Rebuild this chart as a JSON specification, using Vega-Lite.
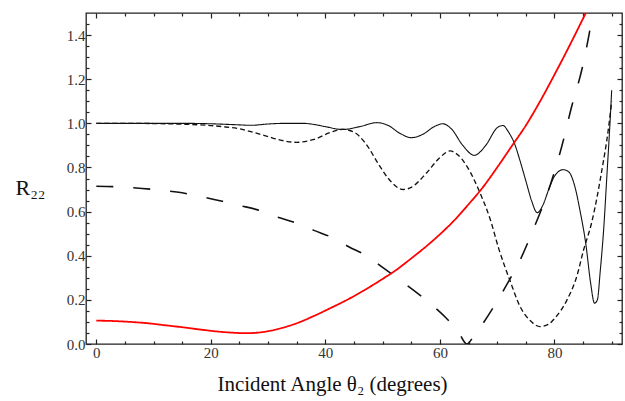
{
  "$schema": "https://vega.github.io/schema/vega-lite/v6.json",
  "width": 536,
  "height": 331,
  "autosize": {"type": "none"},
  "padding": {"left": 86, "top": 13, "right": 3, "bottom": 57},
  "background": "white",
  "config": {
    "view": {"stroke": "#222", "strokeWidth": 1.3},
    "axis": {"grid": false, "domain": false, "labelFont": "'Liberation Serif', 'Times New Roman', serif", "labelFontSize": 15, "labelColor": "#333", "tickColor": "#222", "tickWidth": 1.2, "titleFont": "'Liberation Serif', 'Times New Roman', serif", "titleColor": "#111", "titleFontWeight": "normal", "labelOverlap": false, "labelFlush": false}
  },
  "data": {"values": [
    {"series": "solid", "angle": 0, "R": 1.0},
    {"series": "solid", "angle": 5, "R": 1.0},
    {"series": "solid", "angle": 10, "R": 1.0},
    {"series": "solid", "angle": 15, "R": 1.0},
    {"series": "solid", "angle": 20, "R": 0.998},
    {"series": "solid", "angle": 25, "R": 0.993},
    {"series": "solid", "angle": 27, "R": 0.991},
    {"series": "solid", "angle": 30, "R": 0.997},
    {"series": "solid", "angle": 33, "R": 1.0},
    {"series": "solid", "angle": 36, "R": 1.0},
    {"series": "solid", "angle": 38, "R": 0.995},
    {"series": "solid", "angle": 40, "R": 0.985},
    {"series": "solid", "angle": 43, "R": 0.972},
    {"series": "solid", "angle": 46, "R": 0.985},
    {"series": "solid", "angle": 49, "R": 1.003},
    {"series": "solid", "angle": 51, "R": 0.99},
    {"series": "solid", "angle": 53, "R": 0.955},
    {"series": "solid", "angle": 55, "R": 0.935},
    {"series": "solid", "angle": 57, "R": 0.95},
    {"series": "solid", "angle": 59, "R": 0.985},
    {"series": "solid", "angle": 60.5, "R": 0.998},
    {"series": "solid", "angle": 62, "R": 0.975},
    {"series": "solid", "angle": 64, "R": 0.9},
    {"series": "solid", "angle": 66, "R": 0.855},
    {"series": "solid", "angle": 68, "R": 0.9},
    {"series": "solid", "angle": 70, "R": 0.98},
    {"series": "solid", "angle": 71, "R": 0.99},
    {"series": "solid", "angle": 72, "R": 0.96},
    {"series": "solid", "angle": 73, "R": 0.91},
    {"series": "solid", "angle": 74, "R": 0.83},
    {"series": "solid", "angle": 75, "R": 0.74},
    {"series": "solid", "angle": 76, "R": 0.65},
    {"series": "solid", "angle": 77, "R": 0.595},
    {"series": "solid", "angle": 78, "R": 0.63},
    {"series": "solid", "angle": 79, "R": 0.7},
    {"series": "solid", "angle": 80, "R": 0.76},
    {"series": "solid", "angle": 81.5, "R": 0.79},
    {"series": "solid", "angle": 82.5, "R": 0.78},
    {"series": "solid", "angle": 83.5, "R": 0.72},
    {"series": "solid", "angle": 84.5, "R": 0.6},
    {"series": "solid", "angle": 85.5, "R": 0.45},
    {"series": "solid", "angle": 86.3, "R": 0.28},
    {"series": "solid", "angle": 87, "R": 0.185},
    {"series": "solid", "angle": 87.5, "R": 0.2},
    {"series": "solid", "angle": 88, "R": 0.33},
    {"series": "solid", "angle": 88.6, "R": 0.52},
    {"series": "solid", "angle": 89.2, "R": 0.78},
    {"series": "solid", "angle": 89.7, "R": 1.0},
    {"series": "solid", "angle": 90, "R": 1.15},

    {"series": "short", "angle": 0, "R": 1.0},
    {"series": "short", "angle": 5, "R": 1.0},
    {"series": "short", "angle": 10, "R": 0.999},
    {"series": "short", "angle": 15, "R": 0.996},
    {"series": "short", "angle": 20, "R": 0.99},
    {"series": "short", "angle": 22, "R": 0.985},
    {"series": "short", "angle": 25, "R": 0.975},
    {"series": "short", "angle": 27, "R": 0.962},
    {"series": "short", "angle": 30, "R": 0.94},
    {"series": "short", "angle": 32, "R": 0.925},
    {"series": "short", "angle": 35, "R": 0.914},
    {"series": "short", "angle": 38, "R": 0.927},
    {"series": "short", "angle": 41, "R": 0.96},
    {"series": "short", "angle": 43, "R": 0.973},
    {"series": "short", "angle": 45, "R": 0.96},
    {"series": "short", "angle": 47, "R": 0.91},
    {"series": "short", "angle": 49.5, "R": 0.806},
    {"series": "short", "angle": 51, "R": 0.75},
    {"series": "short", "angle": 53.6, "R": 0.7},
    {"series": "short", "angle": 55, "R": 0.71},
    {"series": "short", "angle": 57.7, "R": 0.776},
    {"series": "short", "angle": 60, "R": 0.845},
    {"series": "short", "angle": 61.8, "R": 0.875},
    {"series": "short", "angle": 63, "R": 0.86},
    {"series": "short", "angle": 64.7, "R": 0.806},
    {"series": "short", "angle": 67, "R": 0.685},
    {"series": "short", "angle": 68.8, "R": 0.564},
    {"series": "short", "angle": 70.3, "R": 0.43},
    {"series": "short", "angle": 72.3, "R": 0.283},
    {"series": "short", "angle": 74, "R": 0.17},
    {"series": "short", "angle": 75.8, "R": 0.105},
    {"series": "short", "angle": 77.5, "R": 0.079},
    {"series": "short", "angle": 79, "R": 0.09},
    {"series": "short", "angle": 80, "R": 0.115},
    {"series": "short", "angle": 82.2, "R": 0.2},
    {"series": "short", "angle": 83.9, "R": 0.306},
    {"series": "short", "angle": 85.1, "R": 0.427},
    {"series": "short", "angle": 86.5, "R": 0.55},
    {"series": "short", "angle": 88.3, "R": 0.79},
    {"series": "short", "angle": 89.4, "R": 0.97},
    {"series": "short", "angle": 90, "R": 1.1},

    {"series": "long", "angle": 0, "R": 0.715},
    {"series": "long", "angle": 4, "R": 0.712},
    {"series": "long", "angle": 8, "R": 0.705},
    {"series": "long", "angle": 12, "R": 0.695},
    {"series": "long", "angle": 15, "R": 0.685},
    {"series": "long", "angle": 18, "R": 0.67},
    {"series": "long", "angle": 22, "R": 0.647},
    {"series": "long", "angle": 25, "R": 0.628},
    {"series": "long", "angle": 28.4, "R": 0.606},
    {"series": "long", "angle": 31, "R": 0.58},
    {"series": "long", "angle": 34.8, "R": 0.549},
    {"series": "long", "angle": 38, "R": 0.515},
    {"series": "long", "angle": 41.3, "R": 0.481},
    {"series": "long", "angle": 44, "R": 0.442},
    {"series": "long", "angle": 47.5, "R": 0.395},
    {"series": "long", "angle": 50, "R": 0.347},
    {"series": "long", "angle": 53, "R": 0.29},
    {"series": "long", "angle": 56, "R": 0.232},
    {"series": "long", "angle": 58.6, "R": 0.177},
    {"series": "long", "angle": 61, "R": 0.12},
    {"series": "long", "angle": 63.2, "R": 0.056},
    {"series": "long", "angle": 64.7, "R": 0.0},
    {"series": "long", "angle": 66, "R": 0.04},
    {"series": "long", "angle": 67.3, "R": 0.085},
    {"series": "long", "angle": 69.9, "R": 0.19},
    {"series": "long", "angle": 71.7, "R": 0.27},
    {"series": "long", "angle": 74, "R": 0.38},
    {"series": "long", "angle": 76, "R": 0.5},
    {"series": "long", "angle": 79.2, "R": 0.715},
    {"series": "long", "angle": 81.3, "R": 0.897},
    {"series": "long", "angle": 83, "R": 1.075},
    {"series": "long", "angle": 84.8, "R": 1.245},
    {"series": "long", "angle": 86.1, "R": 1.41},
    {"series": "long", "angle": 87, "R": 1.55},

    {"series": "red", "angle": 0, "R": 0.106},
    {"series": "red", "angle": 3, "R": 0.104},
    {"series": "red", "angle": 6, "R": 0.1},
    {"series": "red", "angle": 9, "R": 0.094},
    {"series": "red", "angle": 12, "R": 0.085},
    {"series": "red", "angle": 15, "R": 0.076},
    {"series": "red", "angle": 18, "R": 0.066},
    {"series": "red", "angle": 21, "R": 0.057},
    {"series": "red", "angle": 24, "R": 0.051},
    {"series": "red", "angle": 26, "R": 0.049},
    {"series": "red", "angle": 28, "R": 0.051},
    {"series": "red", "angle": 30, "R": 0.058},
    {"series": "red", "angle": 32, "R": 0.07},
    {"series": "red", "angle": 35, "R": 0.094},
    {"series": "red", "angle": 38, "R": 0.127},
    {"series": "red", "angle": 41, "R": 0.164},
    {"series": "red", "angle": 44, "R": 0.203},
    {"series": "red", "angle": 47, "R": 0.247},
    {"series": "red", "angle": 50, "R": 0.295},
    {"series": "red", "angle": 52.5, "R": 0.338},
    {"series": "red", "angle": 55, "R": 0.388},
    {"series": "red", "angle": 57.5, "R": 0.44},
    {"series": "red", "angle": 60, "R": 0.497},
    {"series": "red", "angle": 62.5, "R": 0.56},
    {"series": "red", "angle": 65, "R": 0.633},
    {"series": "red", "angle": 67.5, "R": 0.71},
    {"series": "red", "angle": 70, "R": 0.8},
    {"series": "red", "angle": 72.5, "R": 0.895},
    {"series": "red", "angle": 75, "R": 0.99},
    {"series": "red", "angle": 77.5, "R": 1.1},
    {"series": "red", "angle": 80, "R": 1.22},
    {"series": "red", "angle": 82.5, "R": 1.345},
    {"series": "red", "angle": 85, "R": 1.475},
    {"series": "red", "angle": 87, "R": 1.58}
  ]},
  "layer": [
    {
      "mark": {"type": "line", "clip": true, "interpolate": "monotone"},
      "encoding": {
        "x": {
          "field": "angle", "type": "quantitative",
          "scale": {"domain": [-1.8, 91.8], "nice": false, "zero": false},
          "axis": {
            "values": [0,5,10,15,20,25,30,35,40,45,50,55,60,65,70,75,80,85,90],
            "labelExpr": "datum.value % 20 === 0 ? datum.label : ''",
            "tickSize": {"condition": {"test": "datum.value % 20 === 0", "value": -5}, "value": -3},
            "labelPadding": 6,
            "title": "Incident Angle θ₂ (degrees)",
            "titleFontSize": 21,
            "titleX": 246,
            "titleY": 46,
            "titleBaseline": "alphabetic"
          }
        },
        "y": {
          "field": "R", "type": "quantitative",
          "scale": {"domain": [0, 1.5], "nice": false},
          "axis": {
            "values": [0,0.05,0.1,0.15,0.2,0.25,0.3,0.35,0.4,0.45,0.5,0.55,0.6,0.65,0.7,0.75,0.8,0.85,0.9,0.95,1.0,1.05,1.1,1.15,1.2,1.25,1.3,1.35,1.4,1.45],
            "labelExpr": "abs(datum.value*5 - round(datum.value*5)) < 0.001 ? format(datum.value, '.1f') : ''",
            "tickSize": {"condition": {"test": "abs(datum.value*5 - round(datum.value*5)) < 0.001", "value": -5}, "value": -3},
            "labelPadding": 6,
            "title": "R₂₂",
            "titleAngle": 0,
            "titleFontSize": 22,
            "titleAlign": "left",
            "titleBaseline": "alphabetic",
            "titleX": -71,
            "titleY": 181
          }
        },
        "color": {"field": "series", "type": "nominal", "scale": {"domain": ["solid", "short", "long", "red"], "range": ["#111111", "#111111", "#111111", "#ff0000"]}, "legend": null},
        "strokeDash": {"field": "series", "type": "nominal", "scale": {"domain": ["solid", "short", "long", "red"], "range": [[1, 0], [5, 3], [17, 20], [1, 0]]}, "legend": null},
        "strokeWidth": {"field": "series", "type": "nominal", "scale": {"domain": ["solid", "short", "long", "red"], "range": [1.1, 1.8, 2, 3]}, "legend": null}
      }
    },
    {
      "mark": {"type": "line", "opacity": 0},
      "encoding": {
        "x": {
          "field": "angle", "type": "quantitative",
          "scale": {"domain": [-1.8, 91.8], "nice": false, "zero": false},
          "axis": {
            "orient": "top", "labels": false, "title": null,
            "values": [0,5,10,15,20,25,30,35,40,45,50,55,60,65,70,75,80,85,90],
            "tickSize": {"condition": {"test": "datum.value % 20 === 0", "value": -5}, "value": -3}
          }
        },
        "y": {
          "field": "R", "type": "quantitative",
          "scale": {"domain": [0, 1.5], "nice": false},
          "axis": {
            "orient": "right", "labels": false, "title": null,
            "values": [0,0.05,0.1,0.15,0.2,0.25,0.3,0.35,0.4,0.45,0.5,0.55,0.6,0.65,0.7,0.75,0.8,0.85,0.9,0.95,1.0,1.05,1.1,1.15,1.2,1.25,1.3,1.35,1.4,1.45],
            "tickSize": {"condition": {"test": "abs(datum.value*5 - round(datum.value*5)) < 0.001", "value": -5}, "value": -3}
          }
        },
        "detail": {"field": "series", "type": "nominal"}
      }
    }
  ],
  "resolve": {"axis": {"x": "independent", "y": "independent"}}
}
